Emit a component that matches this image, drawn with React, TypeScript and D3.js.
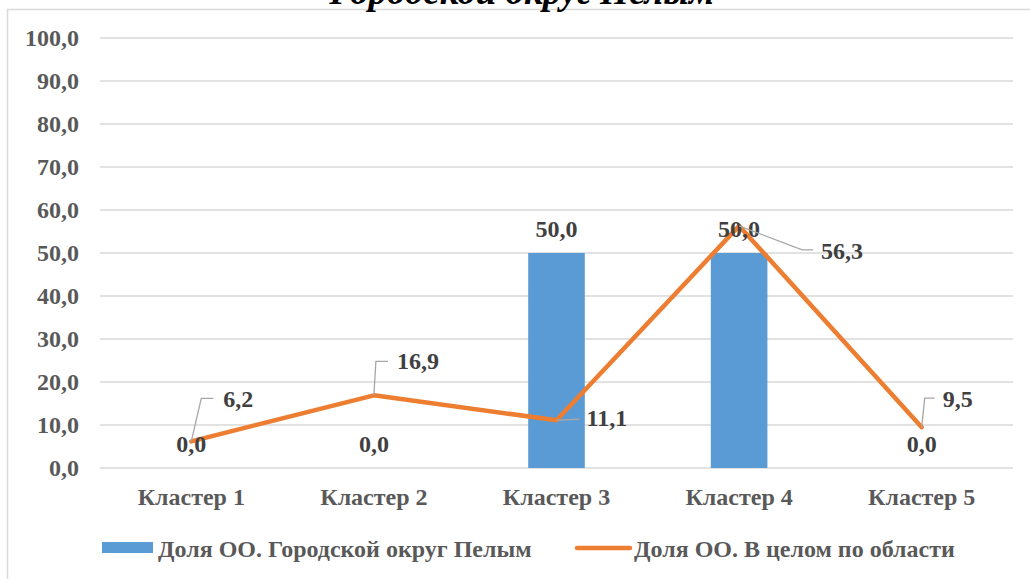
import React from "react";
import * as d3 from "d3";

const categories = ["Кластер 1", "Кластер 2", "Кластер 3", "Кластер 4", "Кластер 5"];
const barValues = [0.0, 0.0, 50.0, 50.0, 0.0];
const lineValues = [6.2, 16.9, 11.1, 56.3, 9.5];
const yTicks = [0, 10, 20, 30, 40, 50, 60, 70, 80, 90, 100];
const seriesNames = ["Доля ОО. Городской округ Пелым", "Доля ОО. В целом по области"];
const titleText = "Городской округ Пелым";

// label layout for the line labels (leader elbow and text offsets relative to the point)
const lineLabelLayout = [
  { elbow: [10, -43], end: [22, -43], text: [32, -34] },
  { elbow: [2, -34], end: [14, -34], text: [23, -26] },
  { elbow: null, end: [23, -1], text: [30, 6] },
  { elbow: [63, 24], end: [74, 24], text: [82, 33] },
  { elbow: [3, -29], end: [13, -29], text: [21, -20] },
];

const W = 1030;
const H = 579;
const FONT = "'Liberation Serif', 'Times New Roman', serif";
const FS = 24;

export default function App() {
  const x = d3.scaleBand<string>().domain(categories).range([100, 1013]).padding(0);
  const y = d3.scaleLinear().domain([0, 100]).range([468, 38]);
  const step = x.step();
  const barW = step * 0.31;
  const cx = (c: string) => (x(c) as number) + step / 2;
  const fmt = (v: number) => v.toFixed(1).replace(".", ",");

  const line = d3
    .line<number>()
    .x((_, i) => cx(categories[i]))
    .y((v) => y(v));

  return (
    <svg
      width={W}
      height={H}
      style={{ position: "absolute", left: 0, top: 0, background: "#fff" }}
      fontFamily={FONT}
      fontWeight="bold"
    >
      <rect x={7.5} y={9.5} width={W + 10} height={H + 10} fill="none" stroke="#d9d9d9" strokeWidth={1.5} />
      <text x={522} y={4} textAnchor="middle" fontSize={37} fontStyle="italic" fill="#000">
        {titleText}
      </text>

      {yTicks.map((t) => (
        <g key={t}>
          <line x1={100} x2={1013} y1={y(t)} y2={y(t)} stroke="#d9d9d9" strokeWidth={1.5} />
          <text x={79} y={y(t)} dy="0.35em" textAnchor="end" fontSize={FS} fill="#595959">
            {fmt(t)}
          </text>
        </g>
      ))}

      {categories.map((c, i) => (
        <rect
          key={c}
          x={cx(c) - barW / 2}
          y={y(barValues[i])}
          width={barW}
          height={y(0) - y(barValues[i])}
          fill="#5b9bd5"
        />
      ))}

      {categories.map((c) => (
        <text key={c} x={cx(c)} y={505} textAnchor="middle" fontSize={FS} fill="#595959">
          {c}
        </text>
      ))}

      <path
        d={line(lineValues) || ""}
        fill="none"
        stroke="#ed7d31"
        strokeWidth={4.5}
        strokeLinejoin="round"
        strokeLinecap="round"
      />

      {categories.map((c, i) => (
        <text key={c} x={cx(c)} y={y(barValues[i]) - 16} textAnchor="middle" fontSize={FS} fill="#404040">
          {fmt(barValues[i])}
        </text>
      ))}

      {categories.map((c, i) => {
        const px = cx(c);
        const py = y(lineValues[i]);
        const L = lineLabelLayout[i];
        const pts: [number, number][] = [[px, py]];
        if (L.elbow) pts.push([px + L.elbow[0], py + L.elbow[1]]);
        pts.push([px + L.end[0], py + L.end[1]]);
        return (
          <g key={c}>
            <polyline
              points={pts.map((p) => p.join(",")).join(" ")}
              fill="none"
              stroke="#a6a6a6"
              strokeWidth={1.3}
            />
            <text x={px + L.text[0]} y={py + L.text[1]} fontSize={FS} fill="#404040">
              {fmt(lineValues[i])}
            </text>
          </g>
        );
      })}

      <rect x={102} y={542} width={51} height={11} fill="#5b9bd5" />
      <text x={158} y={557} fontSize={FS} fill="#595959">
        {seriesNames[0]}
      </text>
      <line x1={577} x2={630} y1={548} y2={548} stroke="#ed7d31" strokeWidth={4.5} strokeLinecap="round" />
      <text x={634} y={557} fontSize={FS} fill="#595959">
        {seriesNames[1]}
      </text>
    </svg>
  );
}
